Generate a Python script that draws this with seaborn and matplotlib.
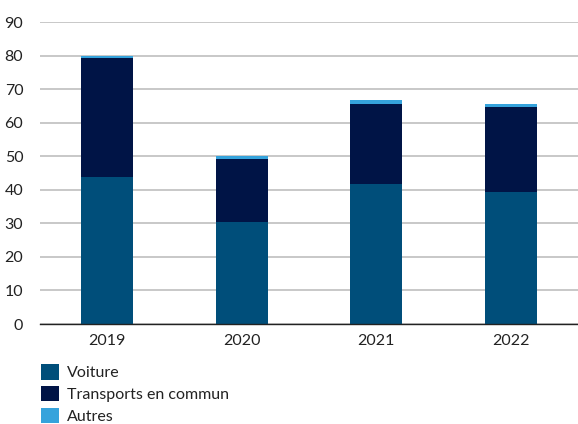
import pandas as pd
import matplotlib
matplotlib.use('Agg')
import matplotlib.pyplot as plt
import seaborn as sns
from matplotlib.patches import Patch

years = ['2019', '2020', '2021', '2022']
voiture = [43.9, 30.4, 41.7, 39.3]
transports = [35.5, 18.8, 23.9, 25.4]
autres = [0.6, 0.9, 1.2, 0.9]

series_names = ['Voiture', 'Transports en commun', 'Autres']
colors = ['#004e7a', '#001446', '#35a3dc']

sns.set_theme(style='white')
plt.rcParams['font.family'] = ['Lato', 'DejaVu Sans']

df = pd.DataFrame({'year': years, 'Voiture': voiture,
                   'Transports en commun': transports, 'Autres': autres})
# cumulative totals so each layer can be drawn from the back
df['c1'] = df['Voiture']
df['c2'] = df['c1'] + df['Transports en commun']
df['c3'] = df['c2'] + df['Autres']

fig = plt.figure(figsize=(5.78, 4.24), dpi=100)
ax = fig.add_axes([40 / 578, 1 - 324 / 424, 538 / 578, 302 / 424])

for col, color in zip(['c3', 'c2', 'c1'], colors[::-1]):
    sns.barplot(data=df, x='year', y=col, color=color, width=0.39,
                saturation=1, ax=ax, zorder=3, linewidth=0, edgecolor='none')

ax.set_ylim(0, 90)
ax.set_yticks(range(0, 91, 10))
ax.set_xlim(-0.5, 3.5)
ax.set_xlabel('')
ax.set_ylabel('')
ax.grid(axis='y', color='#c4c4c4', linewidth=1.3, zorder=0)
ax.set_axisbelow(True)
for s in ['top', 'right', 'left']:
    ax.spines[s].set_visible(False)
ax.spines['bottom'].set_color('#222222')
ax.spines['bottom'].set_linewidth(1.0)
ax.spines['bottom'].set_zorder(4)
ax.tick_params(axis='both', length=0, labelsize=11.5, colors='#222222')
ax.tick_params(axis='y', pad=12)
ax.tick_params(axis='x', pad=7)

handles = [Patch(facecolor=c, edgecolor='none') for c in colors]
fig.legend(handles, series_names, loc='upper left',
           bbox_to_anchor=(35 / 578, 1 - 358 / 424), frameon=False,
           fontsize=11.5, handlelength=1.1, handleheight=1.1,
           handletextpad=0.5, labelspacing=0.35, borderaxespad=0,
           labelcolor='#222222')

fig.savefig('out.png', dpi=100)
